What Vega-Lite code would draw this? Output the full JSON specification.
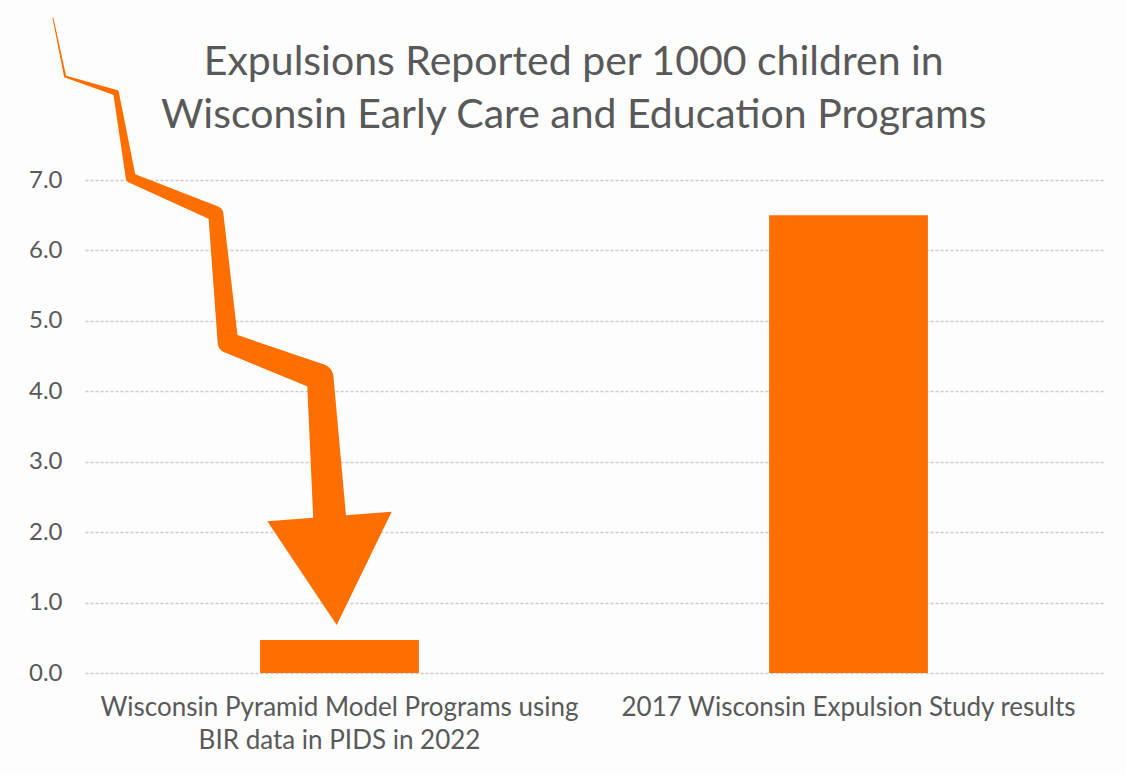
{
  "$schema": "https://vega.github.io/schema/vega-lite/v6.json",
  "width": 1018,
  "height": 493,
  "autosize": {"type": "none"},
  "padding": {"left": 85, "top": 180, "right": 23, "bottom": 102},
  "background": "#fdfdfd",
  "config": {"font": "Lato", "view": {"stroke": null}},
  "title": {
    "text": ["Expulsions Reported per 1000 children in", "Wisconsin Early Care and Education Programs"],
    "fontSize": 41,
    "fontWeight": "normal",
    "color": "#595959",
    "lineHeight": 53,
    "anchor": "middle",
    "frame": "bounds",
    "dx": 8,
    "offset": -119
  },
  "datasets": {
    "bars": [
      {"program": "Wisconsin Pyramid Model Programs using BIR data in PIDS in 2022", "rate": 0.47},
      {"program": "2017 Wisconsin Expulsion Study results", "rate": 6.5}
    ],
    "arrow": [
      {"seq": 0, "ax": -0.063, "ay": 9.30},
      {"seq": 1, "ax": -0.039, "ay": 8.47},
      {"seq": 2, "ax": 0.061, "ay": 8.24},
      {"seq": 3, "ax": 0.090, "ay": 7.03},
      {"seq": 4, "ax": 0.257, "ay": 6.52},
      {"seq": 5, "ax": 0.281, "ay": 4.69},
      {"seq": 6, "ax": 0.462, "ay": 4.20},
      {"seq": 7, "ax": 0.481, "ay": 2.17}
    ],
    "head": [
      {"ax": 0.481, "ay": 1.49}
    ]
  },
  "layer": [
    {
      "data": {"name": "bars"},
      "mark": {"type": "bar", "color": "#ff6f00"},
      "encoding": {
        "x": {
          "field": "program",
          "type": "nominal",
          "sort": null,
          "scale": {"paddingInner": 0.688, "paddingOuter": 0.344},
          "axis": {
            "title": null,
            "labelAngle": 0,
            "labelFontSize": 26,
            "labelColor": "#595959",
            "labelPadding": 21,
            "labelLineHeight": 33,
            "labelLimit": 700,
            "labelExpr": "datum.value == 'Wisconsin Pyramid Model Programs using BIR data in PIDS in 2022' ? ['Wisconsin Pyramid Model Programs using', 'BIR data in PIDS in 2022'] : datum.value",
            "domain": false,
            "ticks": false
          }
        },
        "y": {
          "field": "rate",
          "type": "quantitative",
          "scale": {"domain": [0, 7], "nice": false},
          "axis": {
            "title": null,
            "values": [0, 1, 2, 3, 4, 5, 6, 7],
            "format": ".1f",
            "labelFontSize": 24,
            "labelColor": "#595959",
            "labelPadding": 23,
            "domain": false,
            "ticks": false,
            "gridColor": "#cccccc",
            "gridDash": [3, 2],
            "gridWidth": 1.5
          }
        }
      }
    },
    {
      "data": {"name": "arrow"},
      "mark": {"type": "trail", "color": "#ff6f00", "opacity": 1},
      "encoding": {
        "x": {"field": "ax", "type": "quantitative", "scale": {"domain": [0, 2], "nice": false, "zero": false}, "axis": null},
        "y": {"field": "ay", "type": "quantitative", "axis": {"title": null}},
        "order": {"field": "seq", "type": "quantitative"},
        "size": {"field": "seq", "type": "quantitative", "scale": {"type": "pow", "exponent": 1.4, "domain": [0, 7], "range": [0, 33]}, "legend": null}
      }
    },
    {
      "data": {"name": "head"},
      "mark": {"type": "point", "shape": "M -1 -0.75 L 0.99 -0.9 L 0.11 0.91 Z", "size": 15625, "filled": true, "color": "#ff6f00", "opacity": 1, "strokeWidth": 0},
      "encoding": {
        "x": {"field": "ax", "type": "quantitative", "scale": {"domain": [0, 2], "nice": false, "zero": false}, "axis": null},
        "y": {"field": "ay", "type": "quantitative", "axis": {"title": null}}
      }
    }
  ],
  "resolve": {"scale": {"x": "independent"}}
}
